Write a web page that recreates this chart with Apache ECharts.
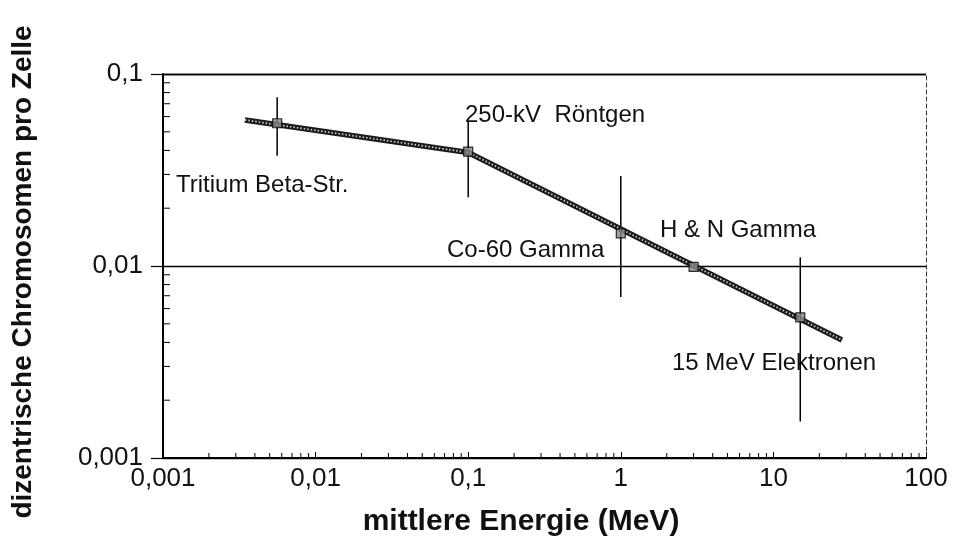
<!DOCTYPE html>
<html>
<head>
<meta charset="utf-8">
<script src="https://cdn.jsdelivr.net/npm/echarts@6/dist/echarts.min.js"></script>
<style>html,body{margin:0;padding:0;background:#fff}#c{width:954px;height:546px}</style>
</head>
<body>
<div id="c"></div>
<script>
// ---- data ----
const energies   = [0.0056, 0.1, 1, 3, 15];          // MeV
const yields     = [0.0554, 0.0394, 0.0148, 0.0099, 0.0054];
const errLow     = [0.0375, 0.0228, 0.0069, null, 0.00155];
const errHigh    = [0.0756, 0.0564, 0.0294, null, 0.0111];
const fitX       = [0.00344, 0.1, 28.1];
const fitY       = [0.0576, 0.039, 0.00412];
const sourceNames = ['Tritium Beta-Str.', '250-kV  Röntgen', 'Co-60 Gamma', 'H & N Gamma', '15 MeV Elektronen'];
const xTickLabels = ['0,001', '0,01', '0,1', '1', '10', '100'];
const yTickLabels = ['0,001', '0,01', '0,1'];
const xTitle = 'mittlere Energie (MeV)';
const yTitle = 'dizentrische Chromosomen pro Zelle';
const minorMult = [2, 3, 4, 5, 6, 7, 8, 9];
const xDecades = [0.001, 0.01, 0.1, 1, 10];
const yDecades = [0.001, 0.01];

const xMinor = [], yMinor = [];
xDecades.forEach(d => minorMult.forEach(m => xMinor.push([+(d * m).toPrecision(3)])));
yDecades.forEach(d => minorMult.forEach(m => yMinor.push([+(d * m).toPrecision(3)])));

const FONT = "'Liberation Sans', Arial, sans-serif";
const chart = echarts.init(document.getElementById('c'), null, {renderer: 'canvas'});

const pts = energies.map((x, i) => [x, yields[i]]);
const errs = energies.map((x, i) => [x, errLow[i], errHigh[i]]).filter(d => d[1] != null);
const fit = fitX.map((x, i) => [x, fitY[i]]);

const labelPos = [[176, 185], [465, 115], [447, 250], [660, 230], [672, 363]];

chart.setOption({
  animation: false,
  backgroundColor: '#fff',
  grid: {left: 163, right: 28, top: 74, bottom: 88},
  xAxis: {
    type: 'log', logBase: 10, min: 0.001, max: 100,
    axisLine: {lineStyle: {color: '#000', width: 2}},
    axisTick: {inside: true, length: 6, lineStyle: {color: '#000', width: 1}},
    axisLabel: {
      fontFamily: FONT, fontSize: 26, color: '#111', margin: 8,
      formatter: v => xTickLabels[Math.round(Math.log10(v)) + 3]
    },
    splitLine: {show: false}
  },
  yAxis: [{
    type: 'log', logBase: 10, min: 0.001, max: 0.1,
    axisLine: {lineStyle: {color: '#000', width: 2}},
    axisTick: {length: 12, lineStyle: {color: '#000', width: 1.2}},
    axisLabel: {
      fontFamily: FONT, fontSize: 26, color: '#111', margin: 20,
      formatter: v => yTickLabels[Math.round(Math.log10(v)) + 3]
    },
    splitLine: {show: true, lineStyle: {color: '#000', width: 1.3}}
  }, {
    type: 'log', logBase: 10, min: 0.001, max: 0.1, position: 'right',
    axisLine: {show: true, lineStyle: {color: '#333', width: 1, type: [4, 3]}},
    axisTick: {show: false}, axisLabel: {show: false}, splitLine: {show: false}
  }],
  series: [
    {
      type: 'custom', name: 'xminor', data: xMinor, silent: true, clip: false,
      renderItem: (params, api) => {
        const p = api.coord([api.value(0), 0.001]);
        return {type: 'line', shape: {x1: p[0], y1: p[1], x2: p[0], y2: p[1] - 5},
                style: {stroke: '#000', lineWidth: 1}};
      }
    },
    {
      type: 'custom', name: 'yminor', data: yMinor, silent: true, clip: false,
      renderItem: (params, api) => {
        const p = api.coord([0.001, api.value(0)]);
        return {type: 'line', shape: {x1: p[0], y1: p[1], x2: p[0] + 7, y2: p[1]},
                style: {stroke: '#000', lineWidth: 1}};
      }
    },
    {
      type: 'custom', name: 'err', data: errs, silent: true, z: 3,
      renderItem: (params, api) => {
        const a = api.coord([api.value(0), api.value(1)]);
        const b = api.coord([api.value(0), api.value(2)]);
        return {type: 'line', shape: {x1: a[0], y1: a[1], x2: b[0], y2: b[1]},
                style: {stroke: '#000', lineWidth: 1.5}};
      }
    },
    {
      type: 'line', data: fit, symbol: 'none', z: 4, silent: true,
      lineStyle: {color: '#1a1a1a', width: 5.5}
    },
    {
      type: 'line', data: fit, symbol: 'none', z: 5, silent: true,
      lineStyle: {color: '#c8c8c8', width: 1.8, type: [1.5, 2]}
    },
    {
      type: 'scatter', data: pts, symbol: 'rect', symbolSize: 9, z: 6,
      itemStyle: {color: '#888', borderColor: '#000', borderWidth: 1.2}
    }
  ],
  graphic: [
    ...sourceNames.map((t, i) => ({
      type: 'text', x: labelPos[i][0], y: labelPos[i][1],
      style: {text: t, font: '24px ' + FONT, fill: '#111', textAlign: 'left', textVerticalAlign: 'middle'}
    })),
    {
      type: 'text', x: 521, y: 522,
      style: {text: xTitle, font: 'bold 30px ' + FONT, fill: '#111', textAlign: 'center', textVerticalAlign: 'middle'}
    },
    {
      type: 'text', x: 23, y: 272, rotation: Math.PI / 2,
      style: {text: yTitle, font: 'bold 28px ' + FONT, fill: '#111', textAlign: 'center', textVerticalAlign: 'middle'}
    }
  ]
});
</script>
</body>
</html>
